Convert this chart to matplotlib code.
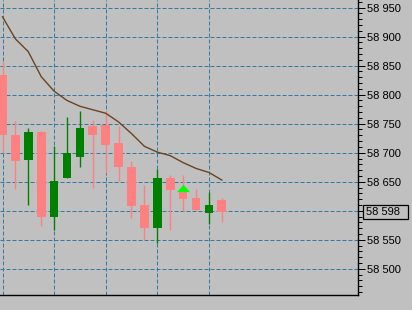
import matplotlib
matplotlib.use('Agg')
import matplotlib.pyplot as plt
import matplotlib.transforms as mtransforms
from matplotlib.ticker import FixedLocator, MultipleLocator, FixedFormatter

# ---- data ----
opens  = [58834, 58731, 58688, 58736, 58590, 58657, 58692, 58746, 58748, 58716,
          58676, 58610, 58571, 58657, 58634, 58622, 58597, 58619]
highs  = [58856, 58755, 58742, 58737, 58711, 58762, 58772, 58757, 58771, 58746,
          58686, 58645, 58672, 58662, 58662, 58637, 58632, 58622]
lows   = [58700, 58638, 58610, 58573, 58567, 58657, 58675, 58640, 58665, 58652,
          58587, 58549, 58544, 58567, 58600, 58600, 58577, 58580]
closes = [58731, 58686, 58736, 58590, 58652, 58699, 58743, 58731, 58714, 58675,
          58609, 58571, 58657, 58636, 58621, 58602, 58610, 58598]
ma     = [58934, 58896, 58874, 58831, 58806, 58790, 58780, 58774, 58768, 58753,
          58733, 58711, 58701, 58695, 58683, 58673, 58666, 58653]
signal_bar = 14
signal_price = 58640
last_price = 58598
y_ticks = [58500, 58550, 58600, 58650, 58700, 58750, 58800, 58850, 58900, 58950]
grid_bars = [0, 4, 8, 12, 16]

BG = '#c0c0c0'
UP = '#008000'
DOWN = '#ff8080'
GRID = '#3579a0'
MA_C = '#6b4420'
FS = 8.0

plt.rcParams['font.family'] = ['Liberation Sans', 'DejaVu Sans']

W, H = 412, 310
fig = plt.figure(figsize=(W / 100, H / 100), dpi=100, facecolor=BG)
ax = fig.add_axes([0, 15 / H, 357.5 / W, 295 / H], facecolor=BG)

x = list(range(len(opens)))
for i in x:
    o, h, l, c = opens[i], highs[i], lows[i], closes[i]
    col = UP if c >= o else DOWN
    ax.vlines(i, l, h, color=col, lw=1.0, zorder=2)
    ax.bar(i, max(abs(c - o), 1), bottom=min(o, c), width=0.67,
           color=col, edgecolor='none', zorder=3)

ax.plot(x, ma, color=MA_C, lw=1.0, zorder=4)

tri = [(-1, -0.55), (1, -0.55), (0, 0.55)]
ax.plot([signal_bar], [signal_price], marker=tri, ms=9.4, color='#00ff00',
        mew=0, linestyle='none', zorder=5)

ax.set_xlim(-0.194, 27.52)
ax.set_ylim(58455, 58963)

ax.yaxis.tick_right()
ax.yaxis.set_major_locator(FixedLocator(y_ticks))
labels = ['' if v == 58600 else f'{v // 1000} {v % 1000:03d}' for v in y_ticks]
ax.yaxis.set_major_formatter(FixedFormatter(labels))
ax.yaxis.set_minor_locator(MultipleLocator(10))
ax.xaxis.set_major_locator(FixedLocator(grid_bars))
ax.set_xticklabels([])
ax.tick_params(axis='x', length=0)
ax.tick_params(axis='y', which='major', direction='out', length=5, width=0.72,
               pad=1.5, labelsize=FS, colors='black')
ax.tick_params(axis='y', which='minor', direction='out', length=3, width=0.72)

ax.set_axisbelow(True)
ax.grid(True, which='major', color=GRID, lw=0.72, linestyle=(0, (4, 2)))

for s in ['top', 'left']:
    ax.spines[s].set_visible(False)
for s in ['right', 'bottom']:
    ax.spines[s].set_color('black')
    ax.spines[s].set_linewidth(1.0)

trans = mtransforms.blended_transform_factory(ax.transAxes, ax.transData) + \
    mtransforms.ScaledTranslation(8.0 / 100, 0, fig.dpi_scale_trans)
ax.text(1.0, last_price, f'{last_price // 1000} {last_price % 1000:03d}  ',
        transform=trans, ha='left', va='center', fontsize=FS, color='black',
        bbox=dict(boxstyle='square,pad=0.2', fc=BG, ec='black', lw=0.9),
        clip_on=False, zorder=6)

fig.savefig('out.png', dpi=100, facecolor=BG)
